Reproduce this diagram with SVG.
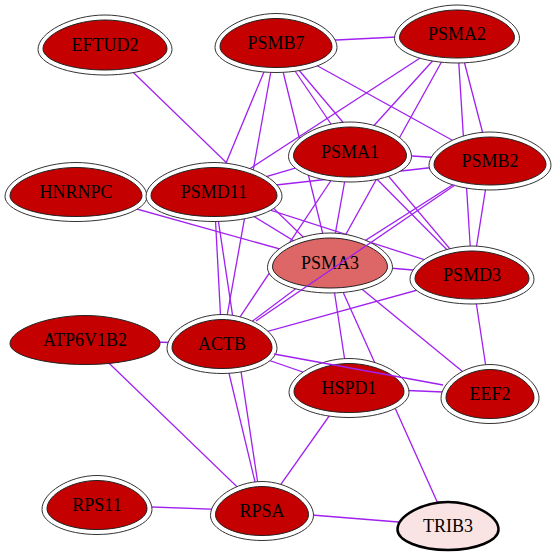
<svg xmlns="http://www.w3.org/2000/svg" xmlns:xlink="http://www.w3.org/1999/xlink" width="557" height="556" viewBox="0 0 557 556">
<style>
.e{stroke:#a020f0;stroke-width:1.3;fill:none}
.ring{fill:#fff;stroke:#333;stroke-width:1}
.in{fill:#c40000;stroke:#222;stroke-width:1}
.mid{fill:#dd6666;stroke:#222;stroke-width:1}
.t{font-family:"Liberation Serif","Times New Roman",serif;font-size:18px;text-anchor:middle;fill:#000}
</style>
<defs>
<path id="egg" vector-effect="non-scaling-stroke" d="M-1,0.15 C-1,-0.42 -0.5,-1 0,-1 C0.5,-1 1,-0.42 1,0.15 C1,0.62 0.55,1 0,1 C-0.55,1 -1,0.62 -1,0.15 Z"/>
</defs>
<rect width="557" height="556" fill="#fff"/>
<g id="edges">
<line class="e" x1="105" y1="45" x2="330" y2="263"/>
<line class="e" x1="276" y1="43" x2="457" y2="34"/>
<line class="e" x1="276" y1="43" x2="214" y2="192"/>
<line class="e" x1="276" y1="43" x2="222" y2="344"/>
<line class="e" x1="276" y1="43" x2="350" y2="152"/>
<line class="e" x1="276" y1="43" x2="472" y2="275"/>
<line class="e" x1="276" y1="43" x2="490" y2="161"/>
<line class="e" x1="276" y1="43" x2="330" y2="263"/>
<line class="e" x1="457" y1="34" x2="350" y2="152"/>
<line class="e" x1="457" y1="34" x2="330" y2="263"/>
<line class="e" x1="457" y1="34" x2="214" y2="192"/>
<line class="e" x1="457" y1="34" x2="490" y2="161"/>
<line class="e" x1="457" y1="34" x2="472" y2="275"/>
<line class="e" x1="350" y1="152" x2="490" y2="161"/>
<line class="e" x1="350" y1="152" x2="214" y2="192"/>
<line class="e" x1="350" y1="152" x2="330" y2="263"/>
<line class="e" x1="350" y1="152" x2="222" y2="344"/>
<line class="e" x1="350" y1="152" x2="472" y2="275"/>
<line class="e" x1="490" y1="161" x2="214" y2="192"/>
<line class="e" x1="490" y1="161" x2="330" y2="263"/>
<line class="e" x1="490" y1="161" x2="472" y2="275"/>
<line class="e" x1="76" y1="192" x2="330" y2="263"/>
<line class="e" x1="214" y1="192" x2="330" y2="263"/>
<line class="e" x1="214" y1="192" x2="472" y2="275"/>
<line class="e" x1="214" y1="192" x2="222" y2="344"/>
<line class="e" x1="214" y1="192" x2="262" y2="511"/>
<line class="e" x1="330" y1="263" x2="472" y2="275"/>
<line class="e" x1="330" y1="263" x2="222" y2="344"/>
<line class="e" x1="330" y1="263" x2="349" y2="388"/>
<line class="e" x1="330" y1="263" x2="448" y2="526"/>
<line class="e" x1="330" y1="263" x2="490" y2="394"/>
<line class="e" x1="472" y1="275" x2="490" y2="394"/>
<line class="e" x1="472" y1="275" x2="222" y2="344"/>
<line class="e" x1="222" y1="344" x2="349" y2="388"/>
<line class="e" x1="222" y1="344" x2="262" y2="511"/>
<line class="e" x1="85" y1="340" x2="222" y2="344"/>
<line class="e" x1="85" y1="340" x2="262" y2="511"/>
<line class="e" x1="349" y1="388" x2="490" y2="394"/>
<line class="e" x1="349" y1="388" x2="262" y2="511"/>
<line class="e" x1="262" y1="511" x2="448" y2="526"/>
<line class="e" x1="97" y1="505" x2="262" y2="511"/>
</g>
<g id="EFTUD2">
<use xlink:href="#egg" class="ring" transform="translate(105,45) scale(67,30)"/>
<use xlink:href="#egg" class="in" transform="translate(105,45) scale(62,25)"/>
<text class="t" x="105" y="51">EFTUD2</text>
</g>
<g id="PSMB7">
<use xlink:href="#egg" class="ring" transform="translate(276,43) scale(61,29.5)"/>
<use xlink:href="#egg" class="in" transform="translate(276,43) scale(56,24.5)"/>
<text class="t" x="276" y="49">PSMB7</text>
</g>
<g id="PSMA2">
<use xlink:href="#egg" class="ring" transform="translate(457,34) scale(62.5,29)"/>
<use xlink:href="#egg" class="in" transform="translate(457,34) scale(57.5,24)"/>
<text class="t" x="457" y="40">PSMA2</text>
</g>
<g id="PSMA1">
<use xlink:href="#egg" class="ring" transform="translate(350,152) scale(61.5,30)"/>
<use xlink:href="#egg" class="in" transform="translate(350,152) scale(56.5,25)"/>
<text class="t" x="350" y="158">PSMA1</text>
</g>
<g id="PSMB2">
<use xlink:href="#egg" class="ring" transform="translate(490,161) scale(61,29)"/>
<use xlink:href="#egg" class="in" transform="translate(490,161) scale(56,24)"/>
<text class="t" x="490" y="167">PSMB2</text>
</g>
<g id="HNRNPC">
<use xlink:href="#egg" class="ring" transform="translate(76,192) scale(71,29.5)"/>
<use xlink:href="#egg" class="in" transform="translate(76,192) scale(66,24.5)"/>
<text class="t" x="76" y="198">HNRNPC</text>
</g>
<g id="PSMD11">
<use xlink:href="#egg" class="ring" transform="translate(214,192) scale(68,29.5)"/>
<use xlink:href="#egg" class="in" transform="translate(214,192) scale(63,24.5)"/>
<text class="t" x="214" y="198">PSMD11</text>
</g>
<g id="PSMA3">
<use xlink:href="#egg" class="ring" transform="translate(330,263) scale(62.5,30)"/>
<use xlink:href="#egg" class="mid" transform="translate(330,263) scale(57.5,25)"/>
<text class="t" x="330" y="269">PSMA3</text>
</g>
<g id="PSMD3">
<use xlink:href="#egg" class="ring" transform="translate(472,275) scale(62,29)"/>
<use xlink:href="#egg" class="in" transform="translate(472,275) scale(57,24)"/>
<text class="t" x="472" y="281">PSMD3</text>
</g>
<g id="ATP6V1B2">
<use xlink:href="#egg" class="in" transform="translate(85,340) scale(75,24.5)"/>
<text class="t" x="85" y="346">ATP6V1B2</text>
</g>
<g id="ACTB">
<use xlink:href="#egg" class="ring" transform="translate(222,344) scale(55,29.5)"/>
<use xlink:href="#egg" class="in" transform="translate(222,344) scale(50,24.5)"/>
<text class="t" x="222" y="350">ACTB</text>
</g>
<g id="HSPD1">
<use xlink:href="#egg" class="ring" transform="translate(349,388) scale(60,29.5)"/>
<use xlink:href="#egg" class="in" transform="translate(349,388) scale(55,24.5)"/>
<text class="t" x="349" y="394">HSPD1</text>
</g>
<g id="EEF2">
<use xlink:href="#egg" class="ring" transform="translate(490,394) scale(49,29.5)"/>
<use xlink:href="#egg" class="in" transform="translate(490,394) scale(44,24.5)"/>
<text class="t" x="490" y="400">EEF2</text>
</g>
<g id="RPS11">
<use xlink:href="#egg" class="ring" transform="translate(97,505) scale(55,29.5)"/>
<use xlink:href="#egg" class="in" transform="translate(97,505) scale(50,24.5)"/>
<text class="t" x="97" y="511">RPS11</text>
</g>
<g id="RPSA">
<use xlink:href="#egg" class="ring" transform="translate(262,511) scale(51.5,29.5)"/>
<use xlink:href="#egg" class="in" transform="translate(262,511) scale(46.5,24.5)"/>
<text class="t" x="262" y="517">RPSA</text>
</g>
<g id="TRIB3">
<use xlink:href="#egg" transform="translate(448,526) scale(50.5,24)" style="fill:#fae3e3;stroke:#000;stroke-width:2.5"/>
<text class="t" x="448" y="532">TRIB3</text>
</g>
<g id="edges-over">
<line class="e" x1="455" y1="185" x2="256" y2="321"/>
<line class="e" x1="274" y1="354" x2="443" y2="385"/>
</g>
</svg>
